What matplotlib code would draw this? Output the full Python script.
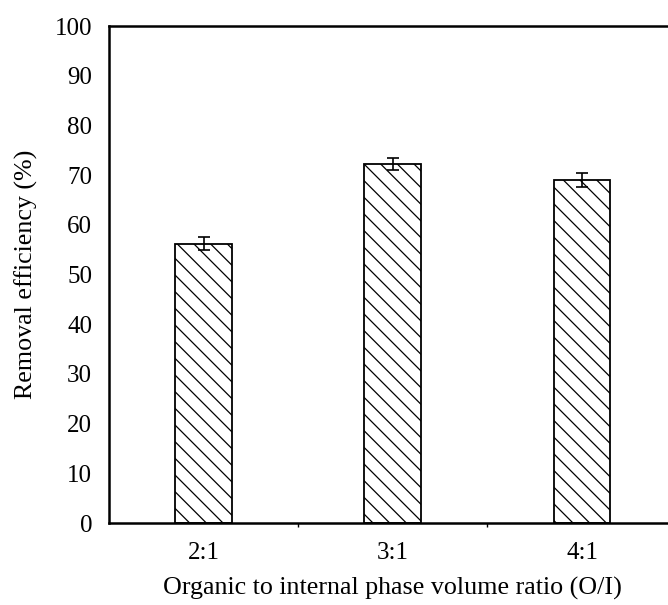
import matplotlib.pyplot as plt
import numpy as np

plt.rcParams['font.family'] = ['Liberation Serif', 'DejaVu Serif']
plt.rcParams['hatch.linewidth'] = 0.9
plt.rcParams['hatch.color'] = '#333333'

ratios = ['2:1', '3:1', '4:1']
efficiency = [56.2, 72.3, 69.1]
errors = [1.3, 1.2, 1.4]

fig = plt.figure(figsize=(6.68, 6.05), dpi=100)
ax = fig.add_axes([0.163, 0.1355, 0.850, 0.8215])

x = np.arange(len(ratios))
ax.bar(x, efficiency, width=0.30, color='white', edgecolor='black',
       linewidth=1.3, hatch='\\\\')
ax.errorbar(x, efficiency, yerr=errors, fmt='none', ecolor='black',
            elinewidth=1.2, capsize=4.5, capthick=1.2)

ax.set_xlim(-0.5, 2.5)
ax.set_ylim(0, 100)
ax.set_yticks(range(0, 101, 10))
ax.set_xticks(x)
ax.set_xticklabels(ratios)
ax.set_xticks([0.5, 1.5], minor=True)
ax.tick_params(axis='y', length=0, pad=12, labelsize=18)
ax.tick_params(axis='x', which='major', length=0, pad=14, labelsize=18)
ax.tick_params(axis='x', which='minor', length=3, width=1, direction='out')

for side in ['left', 'bottom', 'top', 'right']:
    ax.spines[side].set_linewidth(1.8)

ax.set_ylabel('Removal efficiency (%)', fontsize=18.7, labelpad=12)
ax.set_xlabel('Organic to internal phase volume ratio (O/I)', fontsize=18.7, labelpad=9)

fig.savefig('out.png', dpi=100)
